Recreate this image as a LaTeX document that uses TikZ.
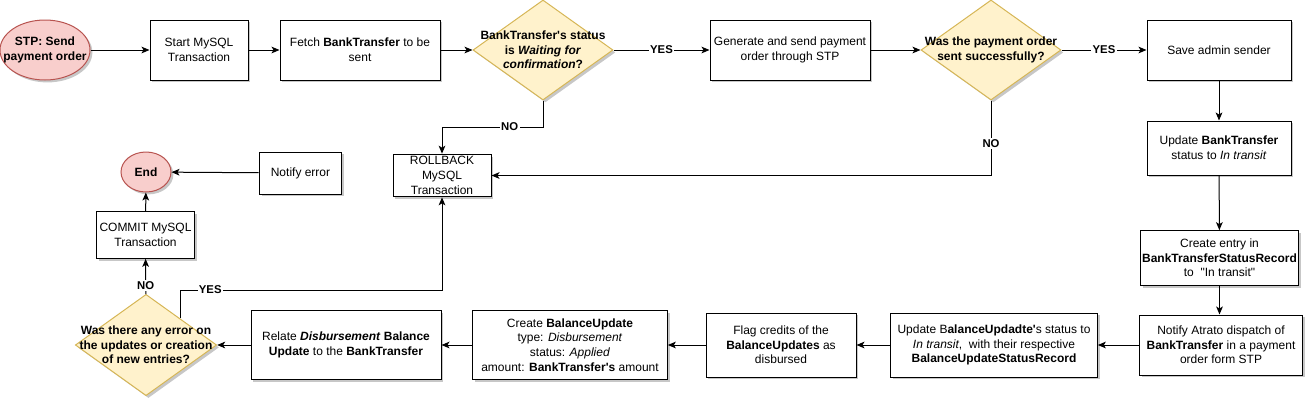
\documentclass[tikz,border=0pt]{standalone}
\usepackage{fontspec}
\setmainfont{Liberation Sans}
\usetikzlibrary{shapes.geometric,arrows.meta,shadows,calc}
\definecolor{redfill}{HTML}{F8CECC}
\definecolor{redline}{HTML}{B85450}
\definecolor{yelfill}{HTML}{FFF2CC}
\definecolor{yelline}{HTML}{D6B656}
\newcommand{\sq}{\textquotesingle}
\newcommand{\dq}{\textquotedbl}
\begin{document}
\begin{tikzpicture}[x=0.75pt,y=-0.75pt,
  every node/.style={font=\fontsize{9}{11}\selectfont},
  shad/.style={drop shadow={shadow xshift=1.8pt,shadow yshift=-1.8pt,fill=black,opacity=0.22}},
  proc/.style={rectangle,draw=black,fill=white,line width=0.75pt,shad,align=center,inner sep=1pt},
  term/.style={ellipse,draw=redline,fill=redfill,line width=0.75pt,shad,inner sep=0pt},
  dec/.style={diamond,draw=yelline,fill=yelfill,line width=0.75pt,shad,inner sep=0pt},
  ctext/.style={align=center,font=\fontsize{9}{11}\selectfont\bfseries},
  arr/.style={-{Stealth[length=6pt,width=5pt,inset=1.5pt]},line width=0.75pt},
  lab/.style={fill=white,inner sep=1pt,font=\fontsize{8.5}{10}\selectfont\bfseries}
]
\useasboundingbox (0,0) rectangle (1307,401);

% top row
\node[term,minimum width=67.5pt,minimum height=45pt,label={[ctext]center:STP: Send\\payment order}] (start) at (45,50) {};
\node[proc,minimum width=73.5pt,minimum height=45pt] (smt) at (199,50) {Start MySQL\\Transaction};
\node[proc,minimum width=120pt,minimum height=45pt] (fetch) at (360,50) {Fetch \textbf{BankTransfer} to be\\sent};
\node[dec,minimum width=105pt,minimum height=75pt,label={[ctext]center:BankTransfer\sq s status\\is \textit{Waiting for}\\\textit{confirmation}?}] (d1) at (543,50) {};
\node[proc,minimum width=120pt,minimum height=45pt] (gen) at (790,50) {Generate and send payment\\order through STP};
\node[dec,minimum width=105pt,minimum height=75pt,label={[ctext]center:Was the payment order\\sent successfully?}] (d2) at (991,50) {};
\node[proc,minimum width=108pt,minimum height=45pt] (save) at (1219,50) {Save admin sender};

% right column
\node[proc,minimum width=108pt,minimum height=40.5pt] (updbt) at (1219,148) {Update \textbf{BankTransfer}\\status to \textit{In transit}};
\node[proc,minimum width=116pt,minimum height=41pt] (create) at (1219.5,258) {Create entry in\\\textbf{BankTransferStatusRecord}\\to~ \dq In transit\dq};
\node[proc,minimum width=122pt,minimum height=45pt] (notify) at (1221,345) {Notify Atrato dispatch of\\\textbf{BankTransfer} in a payment\\order form STP};

% bottom row
\node[proc,minimum width=155pt,minimum height=48pt] (updbu) at (994,345) {Update B\textbf{alanceUpdadte\sq}s status to\\\textit{In transit},~ with their respective\\\textbf{BalanceUpdateStatusRecord}};
\node[proc,minimum width=112.5pt,minimum height=48pt] (flag) at (781,345) {Flag credits of the\\\textbf{BalanceUpdates} as\\disbursed};
\node[proc,minimum width=146pt,minimum height=52pt] (createbu) at (570,345) {Create \textbf{BalanceUpdate}\\type: \textit{Disbursement}\\status: \textit{Applied}\\amount: \textbf{BankTransfer\sq s} amount};
\node[proc,minimum width=142.5pt,minimum height=52pt] (relate) at (346,345) {Relate \textbf{\textit{Disbursement}} \textbf{Balance}\\\textbf{Update} to the \textbf{BankTransfer}};
\node[dec,minimum width=106pt,minimum height=76pt,label={[ctext]center:Was there any error on\\the updates or creation\\of new entries?}] (d3) at (146,345) {};

% left block
\node[proc,minimum width=73pt,minimum height=35pt] (commit) at (145.5,235) {COMMIT MySQL\\Transaction};
\node[term,minimum width=37.5pt,minimum height=30pt,label={[ctext]center:End}] (end) at (146,172) {};
\node[proc,minimum width=62pt,minimum height=31.5pt] (nerr) at (300.5,173) {Notify error};
\node[proc,minimum width=73.5pt,minimum height=32pt] (rb) at (442,175.5) {ROLLBACK\\MySQL\\Transaction};

\coordinate (k1) at (0,127);
\coordinate (k2) at (0,290);
\coordinate (d3y) at ($(d3.north)!0.48!(d3.east)$);

% connectors
\draw[arr] (start) -- (smt);
\draw[arr] (smt) -- (fetch);
\draw[arr] (fetch) -- (d1);
\draw[arr] (d1) -- node[lab]{YES} (gen);
\draw[arr] (gen) -- (d2);
\draw[arr] (d2) -- node[lab]{YES} (save);
\draw[arr] (d1.south) -- (d1.south |- k1) -- node[lab,pos=0.33]{NO} (rb.north |- k1) -- (rb.north);
\draw[arr] (d2.south) |- node[lab,pos=0.287]{NO} (rb.east);
\draw[arr] (save) -- (updbt);
\draw[arr] (updbt) -- (create);
\draw[arr] (create.south) -- (create.south |- notify.north);
\draw[arr] (notify) -- (updbu);
\draw[arr] (updbu) -- (flag);
\draw[arr] (flag) -- (createbu);
\draw[arr] (createbu) -- (relate);
\draw[arr] (relate) -- (d3);
\draw[arr] (d3) -- node[lab,pos=0.25]{NO} (commit);
\draw[arr] (commit) -- (end);
\draw[arr] (nerr) -- (end);
\draw[arr] (d3y) -- (d3y |- k2) -- node[lab,pos=0.115]{YES} (rb.south |- k2) -- (rb.south);
\end{tikzpicture}
\end{document}
